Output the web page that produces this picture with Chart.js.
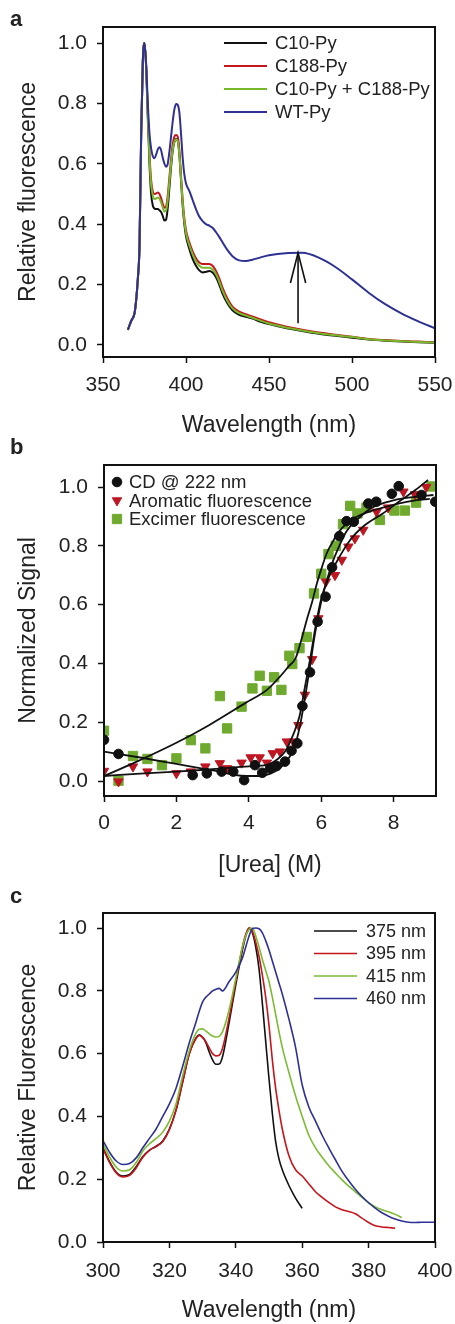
<!DOCTYPE html>
<html>
<head>
<meta charset="utf-8">
<script src="https://cdn.jsdelivr.net/npm/chart.js@4.4.1/dist/chart.umd.min.js"></script>
<style>
body { margin: 0; background: #fff; }
#page { position: relative; width: 455px; height: 1324px; overflow: hidden; }
canvas { position: absolute; left: 0; }
.tag { position: absolute; left: 10px; font: bold 22px 'Liberation Sans', Arial, sans-serif; line-height: 1; color: #222; }
</style>
</head>
<body>
<div id="page">
    <canvas id="chart-a" width="455" height="440" style="top:0"></canvas>
    <canvas id="chart-b" width="455" height="440" style="top:440px"></canvas>
    <canvas id="chart-c" width="455" height="444" style="top:880px"></canvas>
    <div class="tag" style="top:8px">a</div>
    <div class="tag" style="top:436px">b</div>
    <div class="tag" style="top:885px">c</div>
</div>
<script>
// panel a: emission spectra
const waveA = [365, 367, 369, 370, 371, 372, 373, 374, 375, 376, 377, 378, 379, 380, 381, 382, 383, 384, 385, 386, 387, 388, 389, 390, 391, 392, 393, 394, 395, 396, 397, 398, 399, 400, 402, 404, 406, 408, 410, 412, 414, 416, 418, 420, 422, 425, 428, 432, 436, 440, 445, 450, 460, 470, 480, 490, 500, 510, 520, 530, 540, 550];
const c10Py = [0.05, 0.08, 0.105, 0.15, 0.22, 0.33, 0.70, 0.94, 1.0, 0.92, 0.75, 0.60, 0.50, 0.462, 0.452, 0.45, 0.45, 0.446, 0.44, 0.427, 0.412, 0.415, 0.455, 0.52, 0.59, 0.643, 0.672, 0.682, 0.678, 0.63, 0.545, 0.46, 0.40, 0.36, 0.318, 0.285, 0.262, 0.247, 0.24, 0.242, 0.245, 0.24, 0.225, 0.2, 0.17, 0.137, 0.115, 0.1, 0.093, 0.087, 0.077, 0.069, 0.056, 0.046, 0.037, 0.03, 0.024, 0.018, 0.014, 0.011, 0.009, 0.007];
const c188Py = [0.05, 0.08, 0.105, 0.15, 0.22, 0.33, 0.70, 0.94, 1.0, 0.92, 0.77, 0.635, 0.545, 0.508, 0.50, 0.502, 0.505, 0.50, 0.486, 0.467, 0.454, 0.458, 0.495, 0.555, 0.615, 0.665, 0.69, 0.695, 0.69, 0.645, 0.56, 0.48, 0.42, 0.38, 0.34, 0.31, 0.287, 0.273, 0.268, 0.268, 0.268, 0.262, 0.246, 0.221, 0.19, 0.153, 0.127, 0.11, 0.102, 0.094, 0.084, 0.075, 0.061, 0.05, 0.041, 0.034, 0.027, 0.02, 0.016, 0.013, 0.011, 0.009];
const mixPy = [0.05, 0.08, 0.105, 0.15, 0.22, 0.33, 0.70, 0.94, 1.0, 0.92, 0.76, 0.62, 0.53, 0.495, 0.483, 0.485, 0.488, 0.484, 0.472, 0.455, 0.442, 0.445, 0.48, 0.54, 0.60, 0.648, 0.672, 0.68, 0.675, 0.63, 0.55, 0.47, 0.41, 0.37, 0.33, 0.30, 0.277, 0.262, 0.256, 0.256, 0.256, 0.25, 0.235, 0.21, 0.18, 0.145, 0.121, 0.105, 0.097, 0.09, 0.08, 0.071, 0.058, 0.048, 0.039, 0.032, 0.026, 0.019, 0.015, 0.012, 0.01, 0.008];
const wtPy = [0.05, 0.08, 0.105, 0.15, 0.22, 0.33, 0.70, 0.94, 1.0, 0.93, 0.80, 0.70, 0.65, 0.625, 0.618, 0.63, 0.648, 0.655, 0.645, 0.62, 0.60, 0.59, 0.60, 0.64, 0.69, 0.74, 0.78, 0.798, 0.795, 0.77, 0.70, 0.62, 0.565, 0.535, 0.51, 0.48, 0.45, 0.425, 0.41, 0.40, 0.395, 0.388, 0.374, 0.358, 0.34, 0.314, 0.294, 0.28, 0.278, 0.282, 0.29, 0.297, 0.304, 0.305, 0.289, 0.258, 0.217, 0.173, 0.135, 0.104, 0.078, 0.055];
const arrowShaftX = [467.5, 467.5];
const arrowShaftY = [0.072, 0.305];
const arrowHeadX = [462.9, 467.5, 472.1];
const arrowHeadY = [0.205, 0.305, 0.205];
const ticksAx = [350, 400, 450, 500, 550];
const ticksAy = [0, 0.2, 0.4, 0.6, 0.8, 1.0];

// panel b: urea denaturation
const ureaCD = [0, 0.4, 2.45, 2.84, 3.25, 3.57, 3.87, 4.17, 4.37, 4.59, 4.77, 5.0, 5.18, 5.34, 5.48, 5.69, 5.9, 6.12, 6.3, 6.5, 6.7, 6.9, 7.3, 7.52, 7.95, 8.14, 8.77, 9.15];
const signalCD = [0.14, 0.092, 0.02, 0.026, 0.032, 0.032, 0.003, 0.054, 0.028, 0.043, 0.051, 0.066, 0.103, 0.128, 0.255, 0.37, 0.542, 0.627, 0.727, 0.833, 0.884, 0.882, 0.944, 0.95, 0.977, 1.003, 0.973, 0.95];
const ureaArom = [0, 0.4, 0.8, 1.2, 2.0, 2.4, 2.8, 3.2, 3.4, 3.8, 4.05, 4.3, 4.5, 4.66, 4.86, 5.05, 5.23, 5.37, 5.55, 5.75, 5.92, 6.13, 6.38, 6.57, 6.75, 6.93, 7.16, 7.53, 7.85, 8.27, 8.59, 8.9];
const signalArom = [0.034, -0.002, 0.049, 0.032, 0.026, 0.032, 0.049, 0.06, 0.043, 0.062, 0.08, 0.08, 0.062, 0.094, 0.1, 0.134, 0.134, 0.19, 0.293, 0.414, 0.553, 0.678, 0.70, 0.752, 0.797, 0.825, 0.854, 0.916, 0.93, 0.984, 0.975, 1.0];
const ureaExc = [0, 0.4, 0.8, 1.2, 1.6, 2.0, 2.4, 2.8, 3.2, 3.4, 3.8, 4.1, 4.3, 4.5, 4.7, 4.9, 5.12, 5.2, 5.4, 5.6, 5.8, 6.0, 6.2, 6.4, 6.6, 6.8, 7.0, 7.25, 7.62, 8.02, 8.31, 8.62, 9.05];
const signalExc = [0.171, 0.001, 0.085, 0.075, 0.054, 0.077, 0.139, 0.111, 0.289, 0.179, 0.253, 0.315, 0.358, 0.307, 0.353, 0.31, 0.426, 0.398, 0.452, 0.49, 0.638, 0.705, 0.772, 0.80, 0.874, 0.936, 0.91, 0.93, 0.888, 0.92, 0.92, 0.947, 1.002];
const fitCDx = [0, 1, 2, 3, 3.9, 4.3, 4.6, 4.85, 5.05, 5.23, 5.4, 5.51, 5.6, 5.69, 5.8, 5.9, 6.0, 6.15, 6.3, 6.5, 6.7, 7.0, 7.4, 8.0, 8.6, 9.1];
const fitCDy = [0.10, 0.08, 0.058, 0.036, 0.017, 0.017, 0.025, 0.043, 0.07, 0.105, 0.18, 0.253, 0.32, 0.389, 0.48, 0.55, 0.61, 0.68, 0.74, 0.80, 0.85, 0.89, 0.93, 0.955, 0.967, 0.973];
const fitAromx = [0, 1, 2, 3, 4, 4.5, 4.8, 5.0, 5.2, 5.4, 5.55, 5.7, 5.85, 6.0, 6.2, 6.4, 6.8, 7.2, 7.7, 8.2, 8.6, 8.95];
const fitAromy = [0.017, 0.025, 0.032, 0.04, 0.05, 0.055, 0.075, 0.10, 0.15, 0.22, 0.32, 0.42, 0.53, 0.62, 0.69, 0.74, 0.82, 0.87, 0.91, 0.955, 0.99, 1.024];
const fitExcx = [0, 0.8, 2, 2.9, 3.9, 4.5, 4.86, 5.1, 5.3, 5.45, 5.6, 5.75, 5.88, 6.0, 6.15, 6.3, 6.5, 6.9, 7.7, 8.6, 9.0];
const fitExcy = [0.017, 0.06, 0.13, 0.19, 0.265, 0.31, 0.355, 0.39, 0.42, 0.48, 0.548, 0.61, 0.672, 0.72, 0.774, 0.81, 0.85, 0.893, 0.93, 0.955, 0.96];
const ticksBx = [0, 2, 4, 6, 8];
const ticksBy = [0, 0.2, 0.4, 0.6, 0.8, 1.0];

// panel c: excitation spectra
const waveC = [300, 302, 304, 306, 308, 310, 312, 314, 316, 318, 320, 322, 324, 326, 328, 329, 330, 331, 332, 333, 334, 335, 336, 338, 340, 342, 343, 344, 345, 346, 347, 348, 349, 350, 351, 352, 353, 354, 356, 358, 360, 362, 364, 366, 368, 370, 372, 374, 376, 378, 380, 382, 384, 386, 388, 390, 392, 394, 396, 398, 400];
const em375 = [0.30, 0.255, 0.222, 0.21, 0.215, 0.24, 0.272, 0.293, 0.305, 0.322, 0.36, 0.42, 0.51, 0.60, 0.65, 0.66, 0.652, 0.635, 0.605, 0.58, 0.566, 0.567, 0.59, 0.70, 0.82, 0.93, 0.975, 1.0, 0.985, 0.94, 0.87, 0.76, 0.64, 0.52, 0.41, 0.32, 0.265, 0.23, 0.18, 0.14, 0.107];
const em395 = [0.298, 0.253, 0.22, 0.207, 0.212, 0.236, 0.27, 0.292, 0.304, 0.32, 0.358, 0.42, 0.51, 0.60, 0.648, 0.658, 0.652, 0.638, 0.618, 0.60, 0.593, 0.595, 0.617, 0.715, 0.83, 0.94, 0.98, 1.0, 0.99, 0.955, 0.91, 0.85, 0.78, 0.69, 0.58, 0.49, 0.42, 0.36, 0.275, 0.23, 0.21, 0.185, 0.16, 0.142, 0.126, 0.112, 0.103, 0.097, 0.09, 0.076, 0.062, 0.052, 0.048, 0.046, 0.044];
const em415 = [0.313, 0.27, 0.238, 0.226, 0.23, 0.253, 0.29, 0.313, 0.33, 0.35, 0.385, 0.44, 0.53, 0.61, 0.665, 0.678, 0.679, 0.672, 0.663, 0.656, 0.653, 0.655, 0.67, 0.74, 0.84, 0.94, 0.975, 0.995, 1.0, 0.975, 0.94, 0.90, 0.865, 0.83, 0.78, 0.725, 0.67, 0.62, 0.54, 0.465, 0.40, 0.34, 0.30, 0.27, 0.243, 0.22, 0.198, 0.178, 0.16, 0.142, 0.125, 0.112, 0.103, 0.096, 0.088, 0.078];
const em460 = [0.323, 0.285, 0.258, 0.247, 0.25, 0.268, 0.30, 0.33, 0.36, 0.40, 0.44, 0.49, 0.56, 0.635, 0.70, 0.735, 0.765, 0.78, 0.79, 0.80, 0.805, 0.808, 0.80, 0.83, 0.86, 0.905, 0.94, 0.975, 0.998, 1.0, 0.998, 0.985, 0.96, 0.93, 0.895, 0.86, 0.825, 0.79, 0.71, 0.62, 0.50, 0.43, 0.385, 0.34, 0.30, 0.262, 0.225, 0.195, 0.168, 0.145, 0.125, 0.108, 0.093, 0.082, 0.073, 0.067, 0.063, 0.062, 0.063, 0.063, 0.063];
const ticksCx = [300, 320, 340, 360, 380, 400];
const ticksCy = [0, 0.2, 0.4, 0.6, 0.8, 1.0];

const FONT = "'Liberation Sans', Arial, Helvetica, sans-serif";
const INK = '#222';
Chart.defaults.font.family = FONT;
Chart.defaults.color = INK;

const pts = (xs, ys) => ys.map((y, i) => ({ x: xs[i], y }));

const framePlugin = {
    id: 'frame',
    afterDraw(chart) {
        const { ctx, chartArea: a } = chart;
        ctx.save();
        ctx.strokeStyle = '#111';
        ctx.lineWidth = 2;
        ctx.strokeRect(a.left, a.top, a.right - a.left, a.bottom - a.top);
        ctx.restore();
    },
};

const panelLegend = {
    id: 'panelLegend',
    afterDraw(chart, args, opts) {
        const { ctx } = chart;
        ctx.save();
        ctx.font = opts.font;
        ctx.textBaseline = 'middle';
        chart.data.datasets.filter((d) => d.inLegend).forEach((d, i) => {
            const y = opts.y + i * opts.gap;
            if (opts.marker) {
                ctx.fillStyle = d.backgroundColor;
                ctx.strokeStyle = d.borderColor;
                Chart.helpers.drawPoint(ctx, {
                    pointStyle: d.pointStyle,
                    radius: d.pointRadius,
                    rotation: d.pointRotation || 0,
                    borderWidth: 1,
                }, opts.x0, y);
            } else {
                ctx.strokeStyle = d.borderColor;
                ctx.lineWidth = d.borderWidth;
                ctx.beginPath();
                ctx.moveTo(opts.x0, y);
                ctx.lineTo(opts.x1, y);
                ctx.stroke();
            }
            ctx.fillStyle = INK;
            ctx.fillText(d.label, opts.textX, y + 1);
        });
        ctx.restore();
    },
};

// fixed axis boxes so the plot frame lands where the figure has it
const axes = (cfg) => ({
    x: {
        type: 'linear',
        min: cfg.xMin,
        max: cfg.xMax,
        afterFit: (s) => { s.height = cfg.xHeight; s.paddingLeft = 0; s.paddingRight = 0; },
        afterBuildTicks: (s) => { s.ticks = cfg.xTicks.map((value) => ({ value })); },
        border: { display: false },
        grid: { drawOnChartArea: false, drawTicks: true, tickLength: 6, tickWidth: 1.5, tickColor: '#111' },
        ticks: { padding: cfg.xPad, font: { size: 21 }, color: INK, maxRotation: 0, callback: (v) => String(v) },
        title: { display: true, text: cfg.xTitle, font: { size: 23 }, color: INK, padding: { top: 0, bottom: cfg.xTitlePad } },
    },
    y: {
        type: 'linear',
        min: cfg.yMin,
        max: cfg.yMax,
        afterFit: (s) => { s.width = cfg.yWidth; s.paddingTop = 0; s.paddingBottom = 0; },
        afterBuildTicks: (s) => { s.ticks = cfg.yTicks.map((value) => ({ value })); },
        border: { display: false },
        grid: { drawOnChartArea: false, drawTicks: true, tickLength: 6, tickWidth: 1.5, tickColor: '#111' },
        ticks: { padding: 10, font: { size: 21 }, color: INK, callback: (v) => v.toFixed(1) },
        title: { display: true, text: cfg.yTitle, font: { size: 23 }, color: INK, padding: { top: 15, bottom: 0 } },
    },
});

const baseOptions = (cfg) => ({
    responsive: false,
    animation: false,
    events: [],
    layout: { padding: { left: 0, top: cfg.top, right: cfg.right, bottom: 0 } },
    plugins: {
        legend: { display: false },
        tooltip: { enabled: false },
        panelLegend: cfg.legend,
    },
    scales: axes(cfg),
});

const spectrum = (label, xs, ys, color, order, width) => ({
    label,
    data: pts(xs, ys),
    borderColor: color,
    backgroundColor: color,
    borderWidth: width,
    pointRadius: 0,
    cubicInterpolationMode: 'monotone',
    order,
    inLegend: true,
});

const guide = (xs, ys) => ({
    data: pts(xs, ys),
    borderColor: '#111',
    borderWidth: 1.6,
    pointRadius: 0,
    tension: 0,
    order: -1,
});

new Chart(document.getElementById('chart-a'), {
    type: 'line',
    data: {
        datasets: [
            spectrum('C10-Py', waveA, c10Py, '#111111', 3, 2),
            spectrum('C188-Py', waveA, c188Py, '#c4161c', 2, 2),
            spectrum('C10-Py + C188-Py', waveA, mixPy, '#76b82a', 1, 2),
            spectrum('WT-Py', waveA, wtPy, '#2e3192', 0, 2),
            guide(arrowShaftX, arrowShaftY),
            guide(arrowHeadX, arrowHeadY),
        ],
    },
    options: baseOptions({
        top: 27, right: 20, xHeight: 83, yWidth: 103, xPad: 10, xTitlePad: 1,
        xMin: 350, xMax: 550, yMin: -0.04, yMax: 1.053,
        xTicks: ticksAx, yTicks: ticksAy,
        xTitle: 'Wavelength (nm)', yTitle: 'Relative fluorescence',
        legend: { font: `18.5px ${FONT}`, x0: 224, x1: 267, textX: 275, y: 43, gap: 23 },
    }),
    plugins: [framePlugin, panelLegend],
});

const markers = (label, xs, ys, style, radius, color, order, rotation = 0) => ({
    label,
    data: pts(xs, ys),
    pointStyle: style,
    pointRadius: radius,
    pointRotation: rotation,
    backgroundColor: color,
    borderColor: color,
    borderWidth: 1,
    showLine: false,
    order,
    inLegend: true,
});

const fit = (xs, ys) => ({
    data: pts(xs, ys),
    showLine: true,
    borderColor: '#111',
    borderWidth: 1.8,
    pointRadius: 0,
    cubicInterpolationMode: 'monotone',
    order: 0,
});

new Chart(document.getElementById('chart-b'), {
    type: 'scatter',
    data: {
        datasets: [
            markers('CD @ 222 nm', ureaCD, signalCD, 'circle', 4.8, '#111111', 1),
            markers('Aromatic fluorescence', ureaArom, signalArom, 'triangle', 5.4, '#be1622', 2, 180),
            markers('Excimer fluorescence', ureaExc, signalExc, 'rect', 6.6, '#6faa2e', 3),
            fit(fitCDx, fitCDy),
            fit(fitAromx, fitAromy),
            fit(fitExcx, fitExcy),
        ],
    },
    options: baseOptions({
        top: 25, right: 19, xHeight: 84, yWidth: 104, xPad: 9, xTitlePad: 1,
        xMin: 0, xMax: 9.17, yMin: -0.051, yMax: 1.075,
        xTicks: ticksBx, yTicks: ticksBy,
        xTitle: '[Urea] (M)', yTitle: 'Normalized Signal',
        legend: { font: `18.5px ${FONT}`, marker: true, x0: 117, textX: 129, y: 42, gap: 18.5 },
    }),
    plugins: [framePlugin, panelLegend],
});

new Chart(document.getElementById('chart-c'), {
    type: 'line',
    data: {
        datasets: [
            spectrum('375 nm', waveC, em375, '#111111', 3, 1.6),
            spectrum('395 nm', waveC, em395, '#c4161c', 2, 1.6),
            spectrum('415 nm', waveC, em415, '#7cbb32', 1, 1.6),
            spectrum('460 nm', waveC, em460, '#2e3192', 0, 1.6),
        ],
    },
    options: baseOptions({
        top: 33, right: 20, xHeight: 82, yWidth: 103, xPad: 11, xTitlePad: 0,
        xMin: 300, xMax: 400, yMin: 0, yMax: 1.048,
        xTicks: ticksCx, yTicks: ticksCy,
        xTitle: 'Wavelength (nm)', yTitle: 'Relative Fluorescence',
        legend: { font: `18px ${FONT}`, x0: 314, x1: 357, textX: 366, y: 51, gap: 22.5 },
    }),
    plugins: [framePlugin, panelLegend],
});
</script>
</body>
</html>
